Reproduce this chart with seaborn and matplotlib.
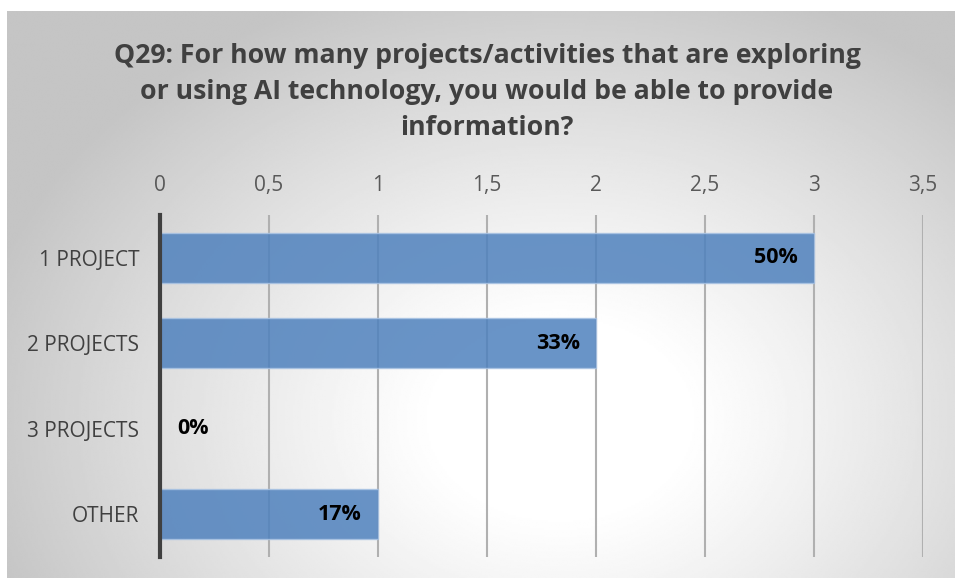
import numpy as np
import pandas as pd
import matplotlib
matplotlib.use("Agg")
import matplotlib.pyplot as plt
import seaborn as sns

# Survey responses (counts) per answer category
categories = ["1 PROJECT", "2 PROJECTS", "3 PROJECTS", "OTHER"]
counts = [3, 2, 0, 1]
x_ticks = [0, 0.5, 1, 1.5, 2, 2.5, 3, 3.5]
x_tick_labels = ["0", "0,5", "1", "1,5", "2", "2,5", "3", "3,5"]
title = ("Q29: For how many projects/activities that are exploring\n"
         "or using AI technology, you would be able to provide\n"
         "information?")

df = pd.DataFrame({"category": categories, "count": counts})
total = sum(counts)

sns.set_theme(style="white")
plt.rcParams["font.family"] = ["Open Sans", "DejaVu Sans"]

W, H = 955, 580
fig = plt.figure(figsize=(W / 100, H / 100), dpi=100)
fig.patch.set_facecolor("white")

# Chart area with a soft radial gradient
bx0, bx1, by0, by1 = 7, 955, 11, 578
bg = fig.add_axes([bx0 / W, 1 - by1 / H, (bx1 - bx0) / W, (by1 - by0) / H])
gx, gy = np.meshgrid(np.linspace(bx0, bx1, 480), np.linspace(by0, by1, 300))
cx, cy = 560, 420
r = np.sqrt(((gx - cx) / 560) ** 2 + ((gy - cy) / 430) ** 2)
t = np.clip((r - 0.22) / 0.85, 0, 1)
shade = 1.0 - 0.23 * t ** 1.1
bg.imshow(shade, cmap="gray", vmin=0, vmax=1, aspect="auto",
          extent=[0, 1, 0, 1], interpolation="bilinear")
bg.set_axis_off()

# Plot area
px0, px1, py0, py1 = 160, 923, 215, 557
ax = fig.add_axes([px0 / W, 1 - py1 / H, (px1 - px0) / W, (py1 - py0) / H])
ax.patch.set_alpha(0)

sns.barplot(data=df, x="count", y="category", orient="h", ax=ax,
            color="#4f81bd", saturation=1, width=0.58, alpha=0.85,
            edgecolor="#a9c3e3", linewidth=1.0, zorder=3)

ax.set_xlim(0, 3.5)
ax.set_ylim(len(categories) - 0.5, -0.5)
ax.set_xticks(x_ticks)
ax.set_xticklabels(x_tick_labels)
ax.xaxis.tick_top()
ax.tick_params(axis="x", length=0, pad=14, labelsize=15, labelcolor="#595959")
ax.tick_params(axis="y", length=0, pad=15, labelsize=15, labelcolor="#404040")
ax.set_xlabel("")
ax.set_ylabel("")

ax.grid(axis="x", color="#b0b0b0", linewidth=1.5, zorder=0)
ax.grid(axis="y", visible=False)
for side in ["top", "right", "bottom"]:
    ax.spines[side].set_visible(False)
ax.spines["left"].set_color("#404040")
ax.spines["left"].set_linewidth(3)
ax.spines["left"].set_zorder(5)

# Percentage labels at the inside end of each bar
for i, v in enumerate(counts):
    label = f"{v / total:.0%}"
    if v > 0:
        ax.text(v - 0.075, i, label, ha="right", va="center",
                fontsize=15.5, fontweight="bold", color="black", zorder=6)
    else:
        ax.text(v + 0.08, i, label, ha="left", va="center",
                fontsize=15.5, fontweight="bold", color="black", zorder=6)

fig.text(487 / W, 1 - 92 / H, title, ha="center", va="center", fontsize=19.2,
         fontweight="bold", color="#404040", linespacing=1.52)

fig.savefig("out.png", dpi=100)
